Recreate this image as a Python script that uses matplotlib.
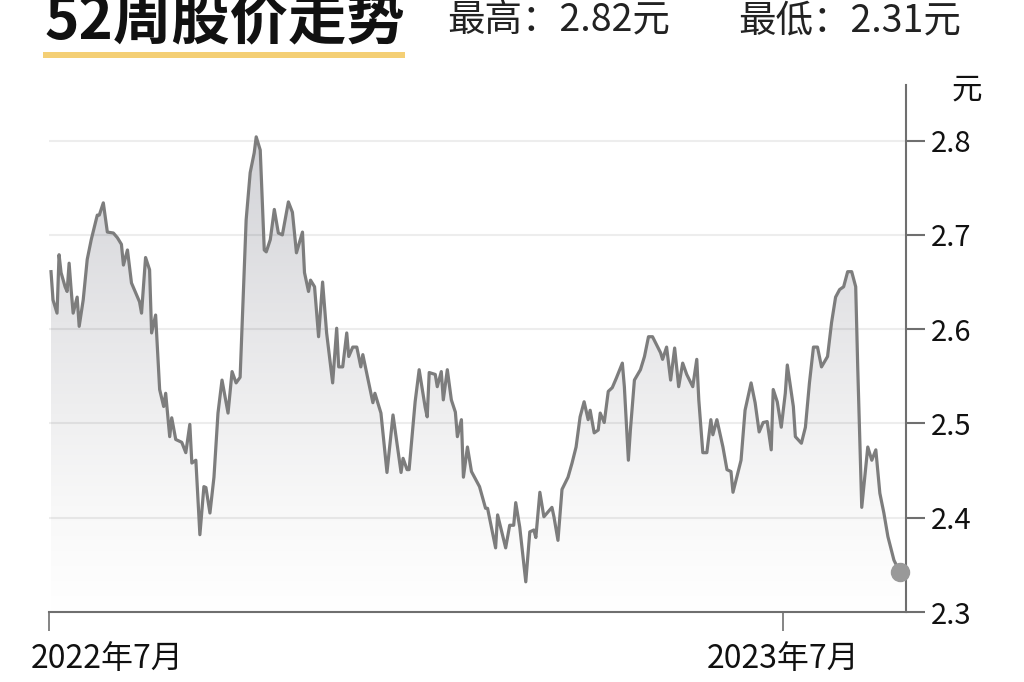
import numpy as np
import pandas as pd
import matplotlib
matplotlib.use('Agg')
import matplotlib.pyplot as plt
import matplotlib.dates as mdates
from matplotlib.transforms import ScaledTranslation
from matplotlib.patches import Rectangle
from matplotlib.colors import LinearSegmentedColormap

plt.rcParams['font.family'] = ['Noto Sans CJK SC', 'DejaVu Sans']

# ---------------- data ----------------
start_date = '2022-07-01'
day_offsets = [1, 2, 4, 5, 6, 8, 9, 10, 11, 12, 14, 15, 17, 19, 21, 24, 25, 27, 29, 32,
               34, 36, 37, 39, 41, 45, 46, 48, 50, 51, 53, 55, 57, 58, 60, 61, 63, 66, 68, 70,
               71, 73, 75, 77, 78, 80, 82, 84, 86, 89, 91, 93, 95, 98, 100, 102, 103, 105, 107, 108,
               110, 112, 114, 116, 119, 121, 123, 126, 127, 129, 130, 132, 134, 136, 138, 141, 143, 144, 146, 148,
               149, 151, 153, 155, 156, 161, 162, 165, 168, 171, 175, 176, 178, 179, 182, 184, 187, 188, 189, 192,
               193, 195, 196, 198, 200, 202, 203, 205, 206, 208, 210, 213, 214, 217, 218, 222, 223, 227, 229, 231,
               232, 234, 237, 239, 241, 242, 244, 246, 248, 250, 251, 253, 255, 258, 260, 262, 264, 266, 268, 269,
               271, 273, 274, 276, 278, 280, 282, 285, 286, 288, 289, 291, 294, 296, 298, 300, 304, 305, 307, 309,
               311, 313, 315, 317, 320, 322, 323, 325, 327, 329, 330, 332, 335, 337, 339, 340, 344, 346, 349, 351,
               353, 355, 357, 359, 360, 362, 364, 366, 367, 370, 371, 374, 376, 378, 380, 382, 384, 387, 389, 391,
               393, 395, 397, 399, 401, 402, 404, 407, 409, 411, 413, 415, 417, 420, 423]
prices = [2.661, 2.631, 2.617, 2.679, 2.660, 2.645, 2.640, 2.670, 2.642, 2.617, 2.634, 2.603, 2.631, 2.674, 2.695, 2.721, 2.721, 2.734, 2.703, 2.702,
          2.697, 2.690, 2.668, 2.684, 2.649, 2.629, 2.617, 2.676, 2.663, 2.596, 2.615, 2.536, 2.518, 2.532, 2.486, 2.506, 2.483, 2.480, 2.469, 2.499,
          2.458, 2.461, 2.382, 2.433, 2.432, 2.405, 2.443, 2.511, 2.546, 2.511, 2.555, 2.543, 2.549, 2.716, 2.766, 2.787, 2.804, 2.790, 2.684, 2.682,
          2.695, 2.727, 2.702, 2.700, 2.735, 2.724, 2.681, 2.703, 2.660, 2.640, 2.652, 2.645, 2.592, 2.650, 2.596, 2.543, 2.601, 2.560, 2.560, 2.596,
          2.571, 2.581, 2.581, 2.560, 2.573, 2.522, 2.532, 2.511, 2.448, 2.509, 2.448, 2.463, 2.451, 2.451, 2.523, 2.557, 2.517, 2.507, 2.554, 2.552,
          2.539, 2.555, 2.525, 2.557, 2.525, 2.512, 2.486, 2.504, 2.443, 2.475, 2.449, 2.437, 2.433, 2.410, 2.410, 2.368, 2.403, 2.368, 2.392, 2.392,
          2.416, 2.390, 2.332, 2.385, 2.387, 2.379, 2.427, 2.401, 2.406, 2.411, 2.401, 2.376, 2.430, 2.443, 2.458, 2.475, 2.507, 2.523, 2.504, 2.514,
          2.490, 2.493, 2.511, 2.501, 2.534, 2.538, 2.548, 2.564, 2.539, 2.461, 2.493, 2.546, 2.557, 2.571, 2.592, 2.592, 2.575, 2.568, 2.581, 2.546,
          2.580, 2.539, 2.564, 2.552, 2.539, 2.568, 2.525, 2.469, 2.469, 2.504, 2.488, 2.504, 2.475, 2.451, 2.449, 2.427, 2.461, 2.514, 2.543, 2.522,
          2.491, 2.501, 2.502, 2.472, 2.536, 2.523, 2.496, 2.532, 2.562, 2.518, 2.486, 2.479, 2.496, 2.543, 2.581, 2.581, 2.560, 2.571, 2.607, 2.634,
          2.642, 2.645, 2.661, 2.661, 2.645, 2.560, 2.411, 2.475, 2.461, 2.472, 2.426, 2.405, 2.380, 2.355, 2.342]

tick_dates = ['2022-07-01', '2023-07-01']
tick_labels = ['2022年7月', '2023年7月']
y_ticks = [2.3, 2.4, 2.5, 2.6, 2.7, 2.8]
title = '52周股价走势'
high_text = '最高：2.82元'
low_text = '最低：2.31元'
unit = '元'

# ---------------- figure ----------------
W, H = 1024, 682
fig = plt.figure(figsize=(W / 100, H / 100), dpi=100)
fig.patch.set_facecolor('white')

ax_l, ax_r, ax_t, ax_b = 49, 906, 85, 612
ax = fig.add_axes([ax_l / W, 1 - ax_b / H, (ax_r - ax_l) / W, (ax_b - ax_t) / H])

start = pd.Timestamp(start_date)
dates = start + pd.to_timedelta(day_offsets, unit='D')
x = mdates.date2num(dates)
x0 = mdates.date2num(start)
x1 = x0 + 426
ylo, yhi = 2.3, 2.859

ax.set_xlim(x0, x1)
ax.set_ylim(ylo, yhi)

# gradient fill under the line
cmap = LinearSegmentedColormap.from_list(
    'g', [(0.0, '#ffffff'), (0.2, '#f8f8f8'), (0.55, '#e6e6e8'), (1.0, '#cdced3')])
grad = np.linspace(0, 1, 256).reshape(-1, 1)
im = ax.imshow(grad, extent=[x0, x1, ylo, yhi], origin='lower', aspect='auto',
               cmap=cmap, vmin=0, vmax=1, zorder=1, interpolation='bicubic')
poly = ax.fill_between(x, prices, ylo, facecolor='none', edgecolor='none')
im.set_clip_path(poly.get_paths()[0], transform=ax.transData)

# grid
for yv in y_ticks[1:]:
    ax.axhline(yv, color=(0, 0, 0, 0.07), lw=1.5, zorder=1.5)

# line + end dot
ax.plot(x, prices, color='#7d7d7d', lw=2.3, zorder=3, solid_joinstyle='round')
ax.plot(x[-1], prices[-1], 'o', ms=13, color='#999999', zorder=4, clip_on=False)

# spines
for s in ['top', 'left']:
    ax.spines[s].set_visible(False)
for s in ['right', 'bottom']:
    ax.spines[s].set_color('#6f6f6f')
    ax.spines[s].set_linewidth(1.5)

ax.yaxis.tick_right()
ax.set_yticks(y_ticks, labels=[f'{v:.1f}' for v in y_ticks])
ax.tick_params(axis='y', direction='out', length=14, width=1.5, color='#6f6f6f',
               pad=4, labelsize=21, labelcolor='#111111')

ax.set_xticks(mdates.date2num(pd.to_datetime(tick_dates)), labels=tick_labels)
ax.tick_params(axis='x', direction='out', length=14, width=1.2, color='#6f6f6f',
               pad=8, labelsize=23, labelcolor='#111111')
# first label sits to the right of its tick
off = ScaledTranslation(58 / 100, 0, fig.dpi_scale_trans)
lab0 = ax.get_xticklabels()[0]
lab0.set_transform(lab0.get_transform() + off)

# unit label
fig.text(967 / W, 1 - 90 / H, unit, ha='center', va='center', fontsize=22, color='#111111')

# header
fig.text(45 / W, 1 - 39 / H, title, ha='left', va='baseline', fontsize=42,
         fontweight='heavy', color='#111111')
fig.text(447 / W, 1 - 31 / H, high_text, ha='left', va='baseline', fontsize=27, color='#222222')
fig.text(738 / W, 1 - 31 / H, low_text, ha='left', va='baseline', fontsize=27, color='#222222')
fig.add_artist(Rectangle((43 / W, 1 - 58 / H), (405 - 43) / W, 6 / H,
                         transform=fig.transFigure, color='#f4cf75', lw=0))

fig.savefig('out.png', dpi=100)
